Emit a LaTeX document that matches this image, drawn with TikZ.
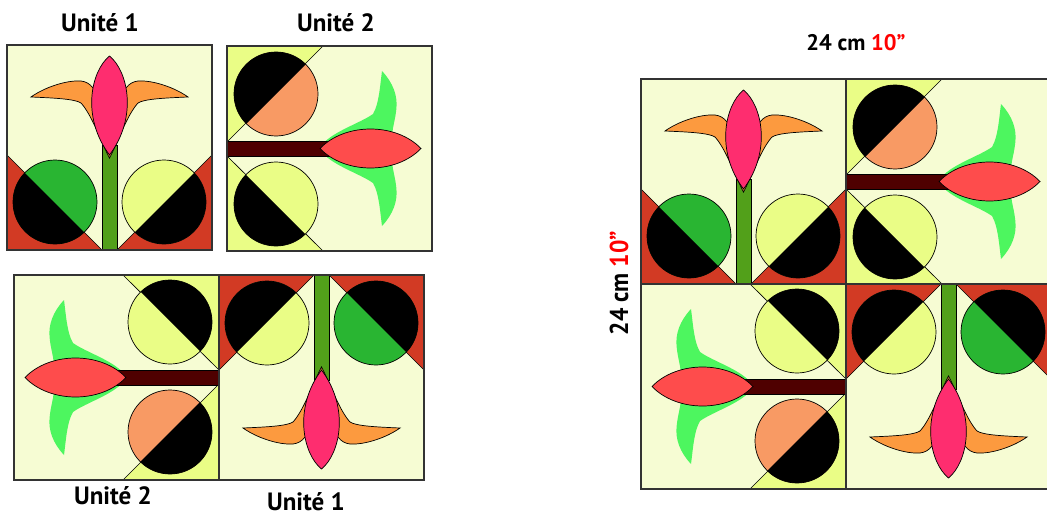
\documentclass[tikz,border=0pt]{standalone}
\usepackage{fontspec}
\setmainfont{PT Sans}
\definecolor{cream}{HTML}{F6FCD3}
\definecolor{lyellow}{HTML}{EAFD86}
\definecolor{redtri}{HTML}{D23A24}
\definecolor{greenc}{HTML}{29B532}
\definecolor{stemgreen}{HTML}{52A01A}
\definecolor{pinkp}{HTML}{FE2D6F}
\definecolor{orangep}{HTML}{FC9A3F}
\definecolor{salmon}{HTML}{F89A64}
\definecolor{brownstem}{HTML}{4F0000}
\definecolor{redleaf}{HTML}{FE4C4C}
\definecolor{leafgreen}{HTML}{4DF65F}
\definecolor{redtxt}{HTML}{FF0000}
\tikzset{
  outl/.style={draw=black, line width=0.7pt},
  thinl/.style={draw=black, line width=0.6pt},
  sq/.style={draw=black!80, line width=1.2pt},
  lbl/.style={font=\bfseries\fontsize{25}{28}\selectfont, anchor=base, inner sep=0pt},
  dimlbl/.style={font=\bfseries\fontsize{22.5}{26}\selectfont, anchor=base, inner sep=0pt},
}
\newcommand\UnitOne{%
  \fill[cream] (0,0) rectangle (205,205);
  \filldraw[fill=redtri, thinl] (0,110) -- (0,205) -- (95,205) -- cycle;
  \filldraw[fill=redtri, thinl] (110,205) -- (205,205) -- (205,110) -- cycle;
  \fill[greenc] (48,157) circle (42);
  \begin{scope}
    \clip (-100,10) -- (195,305) -- (-100,305) -- cycle;
    \fill[black] (48,157) circle (42);
  \end{scope}
  \draw[outl] (48,157) circle (42);
  \fill[lyellow] (157,157) circle (42);
  \begin{scope}
    \clip (305,10) -- (10,305) -- (305,305) -- cycle;
    \fill[black] (157,157) circle (42);
  \end{scope}
  \draw[outl] (157,157) circle (42);
  \filldraw[fill=stemgreen, thinl] (95,100) rectangle (110,205);
  \filldraw[fill=orangep, outl] (24,52) .. controls (38,42) and (60,35) .. (74,36)
    .. controls (79,36.5) and (83,39) .. (86,43) -- (119,43)
    .. controls (122,39) and (126,36.5) .. (131,36)
    .. controls (145,35) and (167,42) .. (181,52)
    .. controls (157,53) and (137,54) .. (131,58)
    .. controls (120,70) and (111,97) .. (102.5,113)
    .. controls (94,97) and (85,70) .. (74,58)
    .. controls (68,54) and (48,53) .. (24,52) -- cycle;
  \filldraw[fill=pinkp, outl] (102.5,11) .. controls (84,26) and (74,72) .. (102.5,110)
    .. controls (131,72) and (121,26) .. (102.5,11) -- cycle;
  \draw[sq] (0,0) rectangle (205,205);
}
\newcommand\UnitTwo{%
  \fill[cream] (0,0) rectangle (205,205);
  \filldraw[fill=lyellow, thinl] (0,0) -- (96,0) -- (0,96) -- cycle;
  \filldraw[fill=lyellow, thinl] (0,110) -- (0,205) -- (96,205) -- cycle;
  \fill[salmon] (49,48) circle (42);
  \begin{scope}
    \clip (-100,197) -- (197,-100) -- (-100,-100) -- cycle;
    \fill[black] (49,48) circle (42);
  \end{scope}
  \draw[outl] (49,48) circle (42);
  \fill[lyellow] (49,158) circle (42);
  \begin{scope}
    \clip (-100,10) -- (195,305) -- (-100,305) -- cycle;
    \fill[black] (49,158) circle (42);
  \end{scope}
  \draw[outl] (49,158) circle (42);
  \fill[leafgreen] (92.7,101.7) .. controls (103,86) and (132,78) .. (146,68)
    .. controls (152,58) and (153,40) .. (155,25)
    .. controls (166,36.7) and (171,50) .. (169.3,63.3)
    .. controls (168.3,73.3) and (166,80) .. (165.3,86.7) -- (165,102.5) -- cycle;
  \fill[leafgreen] (92.7,103.3) .. controls (103,119) and (132,127) .. (146,137)
    .. controls (152,147) and (153,165) .. (155,180)
    .. controls (166,168.3) and (171,155) .. (169.3,141.7)
    .. controls (168.3,131.7) and (166,125) .. (165.3,118.3) -- (165,102.5) -- cycle;
  \filldraw[fill=brownstem, thinl] (0,95) rectangle (103,110);
  \filldraw[fill=redleaf, outl] (93,102.5) .. controls (118,76.5) and (169,76.5) .. (194,102.5)
    .. controls (169,128.5) and (118,128.5) .. (93,102.5) -- cycle;
  \draw[sq] (0,0) rectangle (205,205);
}
\begin{document}
\begin{tikzpicture}[x=1pt, y=-1pt]
  \useasboundingbox (0,0) rectangle (1047,519);
  \clip (0,0) rectangle (1047,519);
  % left column: units
  \begin{scope}[shift={(7,45)}] \UnitOne \end{scope}
  \begin{scope}[shift={(227,46)}] \UnitTwo \end{scope}
  \begin{scope}[shift={(14,275)}, rotate around={180:(102.5,102.5)}] \UnitTwo \end{scope}
  \begin{scope}[shift={(219,275)}, rotate around={180:(102.5,102.5)}] \UnitOne \end{scope}
  % right 2x2 block
  \begin{scope}[shift={(641,79)}] \UnitOne \end{scope}
  \begin{scope}[shift={(846,79)}] \UnitTwo \end{scope}
  \begin{scope}[shift={(641,284)}, rotate around={180:(102.5,102.5)}] \UnitTwo \end{scope}
  \begin{scope}[shift={(846,284)}, rotate around={180:(102.5,102.5)}] \UnitOne \end{scope}
  % labels
  \node[lbl] (t1) at (100,32) {Unité 1};
  \node[lbl] (t2) at (336,32) {Unité 2};
  \node[lbl] (t3) at (113,504) {Unité 2};
  \node[lbl] (t4) at (306,510) {Unité 1};
  \node[dimlbl] (d1) at (856,51) {24 cm \textcolor{redtxt}{10”}};
  \node[dimlbl, rotate=90, yscale=1.15, xscale=1.05] (d2) at (628,283) {24 cm \textcolor{redtxt}{10”}};
\end{tikzpicture}
\end{document}
